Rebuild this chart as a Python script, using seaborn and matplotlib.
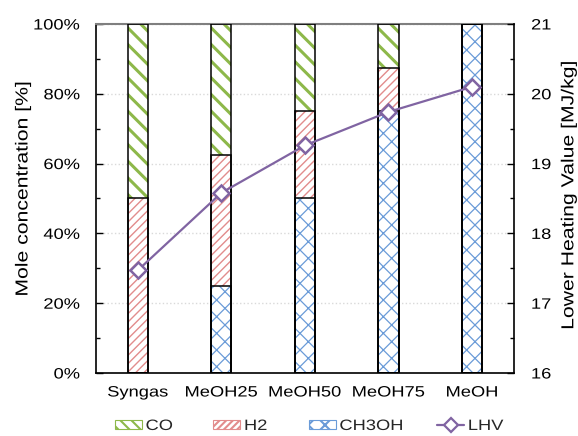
import numpy as np
import pandas as pd
import matplotlib
matplotlib.use("Agg")
import matplotlib.pyplot as plt
from matplotlib.patches import Patch
from matplotlib.lines import Line2D
from matplotlib.ticker import MultipleLocator, PercentFormatter
from matplotlib.patheffects import AbstractPathEffect
from matplotlib.transforms import Affine2D
import seaborn as sns

# Fuel blends and their mole composition (%)
fuels = ["Syngas", "MeOH25", "MeOH50", "MeOH75", "MeOH"]
co = [50.0, 37.5, 25.0, 12.5, 0.0]
h2 = [50.0, 37.5, 25.0, 12.5, 0.0]
ch3oh = [0.0, 25.0, 50.0, 75.0, 100.0]
# Lower heating value (MJ/kg)
lhv = [17.47, 18.58, 19.26, 19.74, 20.10]


class Stretch(AbstractPathEffect):
    """Widen text glyphs along the writing direction about a fixed anchor."""

    def __init__(self, sx=1.2, anchor="center"):
        super().__init__()
        self.sx = sx
        self.anchor = anchor

    def draw_path(self, renderer, gc, tpath, affine, rgbFace=None):
        ext = tpath.get_extents()
        x0 = {"left": ext.x0, "center": 0.5 * (ext.x0 + ext.x1), "right": ext.x1}[self.anchor]
        t = Affine2D().translate(-x0, 0).scale(self.sx, 1.0).translate(x0, 0) + affine
        renderer.draw_path(gc, tpath, t, rgbFace)


SX = 1.22
TICK_FS = 10.8
LABEL_FS = 12.5

sns.set_theme(style="white")
plt.rcParams["font.family"] = ["Liberation Sans", "DejaVu Sans"]
plt.rcParams["font.size"] = TICK_FS

c_co, c_h2, c_me, c_lhv = "#8DB84A", "#E28C8C", "#6A9BD8", "#8064A2"

df = pd.DataFrame({"fuel": fuels, "co": co, "h2": h2, "ch3oh": ch3oh})
df["top_me"] = df["ch3oh"]
df["top_h2"] = df["ch3oh"] + df["h2"]
df["top_co"] = df["top_h2"] + df["co"]

fig = plt.figure(figsize=(5.78, 4.36), dpi=100)
ax = fig.add_axes([0.166, 0.1445, 0.723, 0.8005])

W = 0.24
layers = [("top_co", c_co, "\\\\", 2.2), ("top_h2", c_h2, "////", 1.0), ("top_me", c_me, "xx", 0.9)]

# hatched fills, drawn back to front on cumulative heights
for col, color, hatch, hlw in layers:
    plt.rcParams["hatch.linewidth"] = hlw
    n0 = len(ax.patches)
    sns.barplot(data=df, x="fuel", y=col, ax=ax, width=W, color="white",
                edgecolor=color, linewidth=0, hatch=hatch, zorder=2)
    for p in ax.patches[n0:]:
        p.set_facecolor("white")
        p.set_edgecolor(color)
        p.set_hatch(hatch)
        p.set_linewidth(0)

# segment outlines
for col, _, _, _ in layers:
    n0 = len(ax.patches)
    sns.barplot(data=df, x="fuel", y=col, ax=ax, width=W, fill=False,
                edgecolor="black", linewidth=1.1, zorder=3)
    for p in ax.patches[n0:]:
        p.set_fill(False)
        p.set_edgecolor("black")

ax.set_ylim(0, 100)
ax.set_xlim(-0.5, 4.5)
ax.yaxis.set_major_locator(MultipleLocator(20))
ax.yaxis.set_minor_locator(MultipleLocator(10))
ax.yaxis.set_major_formatter(PercentFormatter(decimals=0))
ax.set_xticks(np.arange(5))
ax.set_xticklabels(fuels)
ax.set_xticks(np.arange(-0.5, 5.0, 1.0), minor=True)
ax.tick_params(axis="x", which="major", length=0, pad=9, labelsize=TICK_FS, colors="black")
ax.tick_params(axis="x", which="minor", direction="in", length=5, width=1, color="black")
ax.tick_params(axis="y", which="major", direction="in", length=5, width=1, color="black",
               labelsize=TICK_FS, labelcolor="black", left=True, pad=11.5)
ax.tick_params(axis="y", which="minor", direction="in", length=3, width=1, color="black", left=True)
ax.set_xlabel("")
ax.set_ylabel("Mole concentration [%]", fontsize=LABEL_FS, color="black")
ax.yaxis.label.set(ha="center", va="center", rotation_mode="anchor")
ax.yaxis.set_label_coords((23 - 96) / 418, 0.5 + (198.5 - 188.5) / 349)
ax.grid(axis="y", which="major", color="#D9D9D9", linestyle=":", linewidth=1.0, zorder=0)
ax.set_axisbelow(True)
for s in ["left", "bottom"]:
    ax.spines[s].set_color("black")
    ax.spines[s].set_linewidth(1.2)
ax.spines["top"].set_color("#7F7F7F")
ax.spines["top"].set_linewidth(1.5)
ax.spines["right"].set_visible(False)

# LHV on the secondary axis
ax2 = ax.twinx()
sns.lineplot(x=np.arange(len(fuels)), y=lhv, ax=ax2, color=c_lhv, linewidth=1.6,
             marker="D", markersize=8.5, markerfacecolor="white",
             markeredgecolor=c_lhv, markeredgewidth=1.8, zorder=5)
ax2.set_ylim(16, 21)
ax2.yaxis.set_major_locator(MultipleLocator(1))
ax2.yaxis.set_minor_locator(MultipleLocator(0.5))
ax2.tick_params(axis="y", which="major", direction="in", length=5, width=1, color="black",
                labelsize=TICK_FS, labelcolor="black", pad=12.5, right=True)
ax2.tick_params(axis="y", which="minor", direction="in", length=3, width=1, color="black", right=True)
ax2.set_ylabel("Lower Heating Value [MJ/kg]", fontsize=LABEL_FS, color="black")
ax2.yaxis.label.set(ha="center", va="center", rotation_mode="anchor")
ax2.yaxis.set_label_coords((569 - 96) / 418, 0.5 + (198.5 - 195) / 349)
for s in ["left", "top", "bottom"]:
    ax2.spines[s].set_visible(False)
ax2.spines["right"].set_color("black")
ax2.spines["right"].set_linewidth(1.2)
ax2.grid(False)

# legend
plt.rcParams["hatch.linewidth"] = 1.5
handles = [
    Patch(facecolor="white", edgecolor=c_co, hatch="\\\\\\", linewidth=0.8, label="CO"),
    Patch(facecolor="white", edgecolor=c_h2, hatch="/////", linewidth=0.8, label="H2"),
    Patch(facecolor="white", edgecolor=c_me, hatch="xx", linewidth=0.8, label="CH3OH"),
    Line2D([0], [0], color=c_lhv, linewidth=1.6, marker="D", markersize=7,
           markerfacecolor="white", markeredgecolor=c_lhv, markeredgewidth=1.6, label="LHV"),
]
leg = fig.legend(handles=handles, loc="center", bbox_to_anchor=(306 / 578, 0.023), ncol=4,
                 frameon=False, fontsize=TICK_FS, handlelength=1.8, handleheight=0.55,
                 handletextpad=0.27, columnspacing=3.0)

# widen all text to the chart's typeface proportions
for lab in ax.get_yticklabels():
    lab.set_path_effects([Stretch(SX, "right")])
for lab in ax2.get_yticklabels():
    lab.set_path_effects([Stretch(SX, "left")])
for lab in ax.get_xticklabels():
    lab.set_path_effects([Stretch(SX, "center")])
ax.yaxis.label.set_path_effects([Stretch(SX, "center")])
ax2.yaxis.label.set_path_effects([Stretch(SX, "center")])
for t in leg.get_texts():
    t.set_path_effects([Stretch(SX, "left")])

fig.savefig("out.png", dpi=100)
